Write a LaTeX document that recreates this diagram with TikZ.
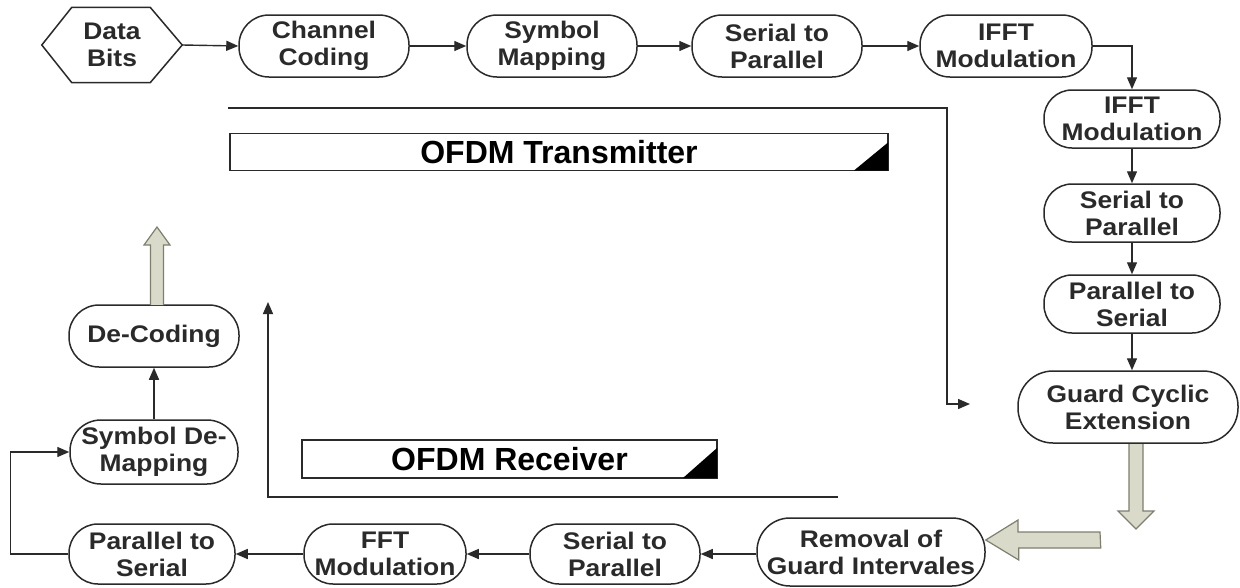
\documentclass[tikz,border=0pt]{standalone}
\usepackage{fontspec}
\setmainfont{Liberation Sans}
\newfontfamily\boxfont[FakeStretch=1.1]{Liberation Sans}
\usetikzlibrary{arrows.meta}
\definecolor{ink}{HTML}{2A2A2A}
\definecolor{fatfill}{HTML}{DADACB}
\definecolor{fatline}{HTML}{7F7F70}
\begin{document}
\begin{tikzpicture}[x=1pt,y=-1pt,
  proc/.style={draw=ink, line width=1.5pt, rounded corners=30pt, minimum width=170pt,
    minimum height=62pt, align=center, inner sep=0pt, text=ink,
    font=\boxfont\bfseries\fontsize{24}{27}\selectfont},
  hexnode/.style={draw=none, minimum width=140pt, minimum height=75pt, align=center,
    inner sep=0pt, text=ink, font=\boxfont\bfseries\fontsize{24}{27}\selectfont},
  conn/.style={draw=ink, line width=1.4pt, -{Triangle[length=12pt,width=10pt]}},
  bracket/.style={draw=ink, line width=1.4pt, -{Triangle[length=12pt,width=10pt]}},
  lab/.style={draw=ink, line width=1.2pt, minimum height=37pt, inner sep=0pt, text=black,
    font=\bfseries\fontsize{32}{34}\selectfont},
  fat/.style={draw=fatline, fill=fatfill, line width=1.2pt, line join=miter}
]
\useasboundingbox (0,0) rectangle (1240,587);
\fill[white] (0,0) rectangle (1240,587);

% transmitter row
\node[hexnode] (data) at (112,45) {Data\\Bits};
\draw[ink, line width=1.5pt] (data.west) -- ([xshift=30pt]data.north west) -- ([xshift=-32pt]data.north east)
  -- (data.east) -- ([xshift=-32pt]data.south east) -- ([xshift=30pt]data.south west) -- cycle;
\node[proc] (cc) at (324,46) {Channel\\Coding};
\node[proc] (sm) at (552,46) {Symbol\\Mapping};
\node[proc] (sp1) at (777,46) {Serial to\\Parallel};
\node[proc, minimum width=172pt] (if1) at (1006,46) {IFFT\\Modulation};
\node[proc, minimum width=176pt, minimum height=58pt, rounded corners=28pt] (if2) at (1132,119) {IFFT\\Modulation};
\node[proc, minimum width=176pt, minimum height=58pt, rounded corners=28pt] (sp2) at (1132,213) {Serial to\\Parallel};
\node[proc, minimum width=176pt, minimum height=58pt, rounded corners=28pt] (ps1) at (1132,304) {Parallel to\\Serial};
\node[proc, minimum width=220pt, minimum height=72pt, rounded corners=35pt] (gce) at (1128,407) {Guard Cyclic\\Extension};

% receiver row
\node[proc, minimum width=228pt, minimum height=68pt, rounded corners=33pt] (rem) at (871,552) {Removal of\\Guard Intervales};
\node[proc, minimum height=60pt, rounded corners=29pt] (sp3) at (615,554) {Serial to\\Parallel};
\node[proc, minimum width=162pt, minimum height=60pt, rounded corners=29pt] (fft) at (385,554) {FFT\\Modulation};
\node[proc, minimum width=166pt, minimum height=60pt, rounded corners=29pt] (ps2) at (152,554) {Parallel to\\Serial};
\node[proc, minimum width=168pt, minimum height=64pt, rounded corners=31pt] (sdm) at (154,452) {Symbol De-\\Mapping};
\node[proc, minimum width=170pt, minimum height=62pt] (dec) at (154,336) {De-Coding};

% connectors
\draw[conn] (data.east) -- (cc.west);
\draw[conn] (cc.east) -- (sm.west);
\draw[conn] (sm.east) -- (sp1.west);
\draw[conn] (sp1.east) -- (if1.west);
\draw[conn] (if1.east) -| (if2.north);
\draw[conn] (if2.south) -- (sp2.north);
\draw[conn] (sp2.south) -- (ps1.north);
\draw[conn] (ps1.south) -- (gce.north -| ps1.south);
\draw[conn] (rem.west |- sp3.east) -- (sp3.east);
\draw[conn] (sp3.west) -- (fft.east);
\draw[conn] (fft.west) -- (ps2.east);
\draw[conn] (ps2.west) -- ++(-58pt,0) |- (sdm.west);
\draw[conn] (sdm.north) -- (dec.south);

% brackets
\coordinate (t1) at (228,108);
\coordinate (t2) at (947,108);
\coordinate (t3) at (970,404);
\draw[bracket] (t1) -- (t2) |- (t3);
\coordinate (r1) at (838,497);
\coordinate (r2) at (268,302);
\draw[bracket] (r1) -| (r2);

% labels
\node[lab, minimum width=658pt] (tx) at (559,152) {OFDM Transmitter};
\fill[black] ([xshift=-0.6pt,yshift=0.6pt]tx.south east) -- ++(-34,0) -- ++(34,-28) -- cycle;
\node[lab, minimum width=415pt, minimum height=38pt] (rx) at (509.5,459) {OFDM Receiver};
\fill[black] ([xshift=-0.6pt,yshift=0.6pt]rx.south east) -- ++(-34,0) -- ++(34,-30) -- cycle;

% fat arrows
\coordinate (g0) at (1136,444);
\draw[fat] (g0) ++(-7,0) -- ++(0,67) -- ++(-11,0) -- (1136,529) -- ++(18,-18) -- ++(-11,0) -- ++(0,-67);
\coordinate (h0) at (1100,540);
\draw[fat] (h0) ++(0,-8) -- ++(-82,0) -- ++(0,-12) -- (rem.east |- h0) -- ++(33,20) -- ++(0,-12) -- ++(82,0) -- cycle;
\coordinate (u0) at (157,305);
\draw[fat] (u0) ++(-6.5,0) -- ++(0,-60) -- ++(-6.5,0) -- (157,227) -- ++(13,18) -- ++(-6.5,0) -- ++(0,60);
\end{tikzpicture}
\end{document}
